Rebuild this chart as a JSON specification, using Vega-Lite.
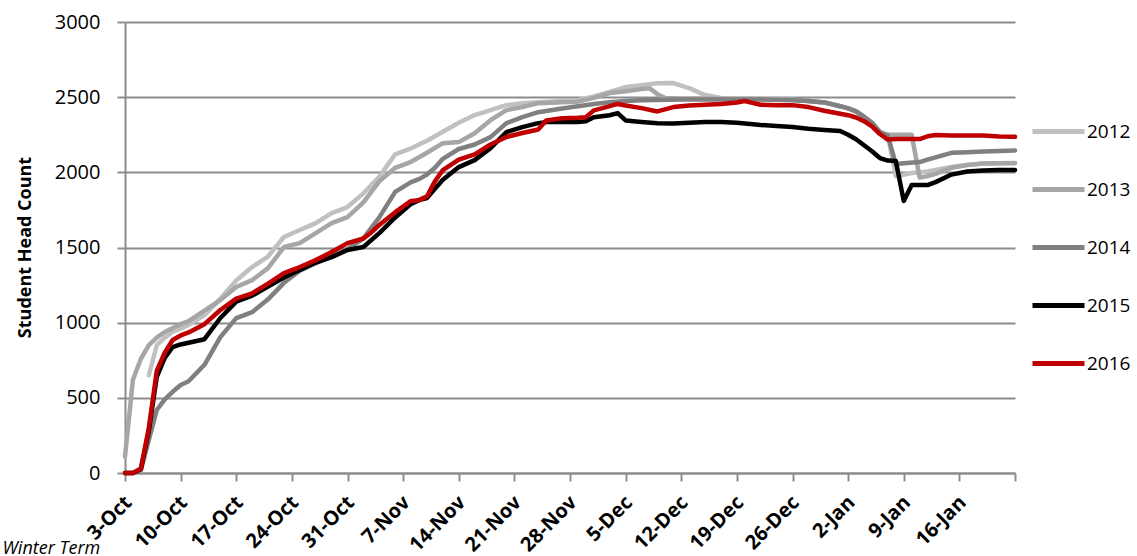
{
  "$schema": "https://vega.github.io/schema/vega-lite/v6.json",
  "width": 890,
  "height": 451,
  "autosize": {"type": "none"},
  "padding": {"left": 125, "top": 22, "right": 122, "bottom": 83},
  "background": "white",
  "config": {"font": "Open Sans", "view": {"stroke": null}},
  "data": {"values": [
    {"date":"2016-10-06","year":"2012","count":650},
    {"date":"2016-10-07","year":"2012","count":850},
    {"date":"2016-10-08","year":"2012","count":900},
    {"date":"2016-10-09","year":"2012","count":940},
    {"date":"2016-10-10","year":"2012","count":960},
    {"date":"2016-10-11","year":"2012","count":985},
    {"date":"2016-10-13","year":"2012","count":1050},
    {"date":"2016-10-15","year":"2012","count":1160},
    {"date":"2016-10-17","year":"2012","count":1280},
    {"date":"2016-10-19","year":"2012","count":1370},
    {"date":"2016-10-21","year":"2012","count":1440},
    {"date":"2016-10-23","year":"2012","count":1570},
    {"date":"2016-10-25","year":"2012","count":1616},
    {"date":"2016-10-27","year":"2012","count":1662},
    {"date":"2016-10-29","year":"2012","count":1729},
    {"date":"2016-10-31","year":"2012","count":1769},
    {"date":"2016-11-02","year":"2012","count":1860},
    {"date":"2016-11-04","year":"2012","count":1970},
    {"date":"2016-11-06","year":"2012","count":2120},
    {"date":"2016-11-08","year":"2012","count":2160},
    {"date":"2016-11-10","year":"2012","count":2210},
    {"date":"2016-11-12","year":"2012","count":2270},
    {"date":"2016-11-14","year":"2012","count":2330},
    {"date":"2016-11-16","year":"2012","count":2381},
    {"date":"2016-11-18","year":"2012","count":2414},
    {"date":"2016-11-20","year":"2012","count":2447},
    {"date":"2016-11-22","year":"2012","count":2460},
    {"date":"2016-11-24","year":"2012","count":2467},
    {"date":"2016-11-27","year":"2012","count":2475},
    {"date":"2016-11-29","year":"2012","count":2480},
    {"date":"2016-12-01","year":"2012","count":2505},
    {"date":"2016-12-03","year":"2012","count":2535},
    {"date":"2016-12-05","year":"2012","count":2567},
    {"date":"2016-12-07","year":"2012","count":2580},
    {"date":"2016-12-09","year":"2012","count":2592},
    {"date":"2016-12-11","year":"2012","count":2594},
    {"date":"2016-12-13","year":"2012","count":2560},
    {"date":"2016-12-15","year":"2012","count":2514},
    {"date":"2016-12-17","year":"2012","count":2495},
    {"date":"2016-12-19","year":"2012","count":2490},
    {"date":"2016-12-22","year":"2012","count":2488},
    {"date":"2016-12-26","year":"2012","count":2482},
    {"date":"2016-12-28","year":"2012","count":2475},
    {"date":"2016-12-30","year":"2012","count":2465},
    {"date":"2017-01-01","year":"2012","count":2440},
    {"date":"2017-01-02","year":"2012","count":2425},
    {"date":"2017-01-03","year":"2012","count":2405},
    {"date":"2017-01-04","year":"2012","count":2370},
    {"date":"2017-01-05","year":"2012","count":2330},
    {"date":"2017-01-06","year":"2012","count":2270},
    {"date":"2017-01-07","year":"2012","count":2245},
    {"date":"2017-01-08","year":"2012","count":1975},
    {"date":"2017-01-09","year":"2012","count":1985},
    {"date":"2017-01-10","year":"2012","count":1995},
    {"date":"2017-01-11","year":"2012","count":2000},
    {"date":"2017-01-12","year":"2012","count":2005},
    {"date":"2017-01-13","year":"2012","count":2015},
    {"date":"2017-01-15","year":"2012","count":2035},
    {"date":"2017-01-17","year":"2012","count":2050},
    {"date":"2017-01-19","year":"2012","count":2058},
    {"date":"2017-01-21","year":"2012","count":2060},
    {"date":"2017-01-23","year":"2012","count":2060},

    {"date":"2016-10-03","year":"2013","count":110},
    {"date":"2016-10-04","year":"2013","count":620},
    {"date":"2016-10-05","year":"2013","count":760},
    {"date":"2016-10-06","year":"2013","count":850},
    {"date":"2016-10-07","year":"2013","count":900},
    {"date":"2016-10-08","year":"2013","count":938},
    {"date":"2016-10-09","year":"2013","count":965},
    {"date":"2016-10-10","year":"2013","count":990},
    {"date":"2016-10-11","year":"2013","count":1010},
    {"date":"2016-10-13","year":"2013","count":1080},
    {"date":"2016-10-15","year":"2013","count":1150},
    {"date":"2016-10-17","year":"2013","count":1237},
    {"date":"2016-10-19","year":"2013","count":1283},
    {"date":"2016-10-21","year":"2013","count":1363},
    {"date":"2016-10-23","year":"2013","count":1503},
    {"date":"2016-10-25","year":"2013","count":1529},
    {"date":"2016-10-27","year":"2013","count":1596},
    {"date":"2016-10-29","year":"2013","count":1662},
    {"date":"2016-10-31","year":"2013","count":1702},
    {"date":"2016-11-02","year":"2013","count":1800},
    {"date":"2016-11-04","year":"2013","count":1940},
    {"date":"2016-11-06","year":"2013","count":2030},
    {"date":"2016-11-08","year":"2013","count":2070},
    {"date":"2016-11-10","year":"2013","count":2130},
    {"date":"2016-11-12","year":"2013","count":2194},
    {"date":"2016-11-14","year":"2013","count":2201},
    {"date":"2016-11-16","year":"2013","count":2260},
    {"date":"2016-11-18","year":"2013","count":2347},
    {"date":"2016-11-20","year":"2013","count":2414},
    {"date":"2016-11-22","year":"2013","count":2434},
    {"date":"2016-11-24","year":"2013","count":2460},
    {"date":"2016-11-27","year":"2013","count":2467},
    {"date":"2016-11-29","year":"2013","count":2470},
    {"date":"2016-12-01","year":"2013","count":2495},
    {"date":"2016-12-03","year":"2013","count":2527},
    {"date":"2016-12-05","year":"2013","count":2540},
    {"date":"2016-12-07","year":"2013","count":2555},
    {"date":"2016-12-08","year":"2013","count":2560},
    {"date":"2016-12-09","year":"2013","count":2520},
    {"date":"2016-12-10","year":"2013","count":2495},
    {"date":"2016-12-12","year":"2013","count":2490},
    {"date":"2016-12-15","year":"2013","count":2490},
    {"date":"2016-12-19","year":"2013","count":2488},
    {"date":"2016-12-22","year":"2013","count":2487},
    {"date":"2016-12-26","year":"2013","count":2483},
    {"date":"2016-12-28","year":"2013","count":2475},
    {"date":"2016-12-30","year":"2013","count":2465},
    {"date":"2017-01-01","year":"2013","count":2440},
    {"date":"2017-01-02","year":"2013","count":2425},
    {"date":"2017-01-03","year":"2013","count":2405},
    {"date":"2017-01-04","year":"2013","count":2370},
    {"date":"2017-01-05","year":"2013","count":2330},
    {"date":"2017-01-06","year":"2013","count":2270},
    {"date":"2017-01-07","year":"2013","count":2250},
    {"date":"2017-01-08","year":"2013","count":2250},
    {"date":"2017-01-09","year":"2013","count":2250},
    {"date":"2017-01-10","year":"2013","count":2250},
    {"date":"2017-01-11","year":"2013","count":1965},
    {"date":"2017-01-12","year":"2013","count":1975},
    {"date":"2017-01-13","year":"2013","count":1990},
    {"date":"2017-01-15","year":"2013","count":2030},
    {"date":"2017-01-17","year":"2013","count":2048},
    {"date":"2017-01-19","year":"2013","count":2058},
    {"date":"2017-01-21","year":"2013","count":2060},
    {"date":"2017-01-23","year":"2013","count":2062},

    {"date":"2016-10-03","year":"2014","count":0},
    {"date":"2016-10-04","year":"2014","count":0},
    {"date":"2016-10-05","year":"2014","count":20},
    {"date":"2016-10-06","year":"2014","count":220},
    {"date":"2016-10-07","year":"2014","count":419},
    {"date":"2016-10-08","year":"2014","count":490},
    {"date":"2016-10-09","year":"2014","count":540},
    {"date":"2016-10-10","year":"2014","count":585},
    {"date":"2016-10-11","year":"2014","count":610},
    {"date":"2016-10-13","year":"2014","count":720},
    {"date":"2016-10-15","year":"2014","count":904},
    {"date":"2016-10-17","year":"2014","count":1030},
    {"date":"2016-10-19","year":"2014","count":1070},
    {"date":"2016-10-21","year":"2014","count":1155},
    {"date":"2016-10-23","year":"2014","count":1265},
    {"date":"2016-10-25","year":"2014","count":1345},
    {"date":"2016-10-27","year":"2014","count":1395},
    {"date":"2016-10-29","year":"2014","count":1440},
    {"date":"2016-10-31","year":"2014","count":1490},
    {"date":"2016-11-02","year":"2014","count":1560},
    {"date":"2016-11-04","year":"2014","count":1700},
    {"date":"2016-11-06","year":"2014","count":1870},
    {"date":"2016-11-08","year":"2014","count":1935},
    {"date":"2016-11-09","year":"2014","count":1955},
    {"date":"2016-11-10","year":"2014","count":1985},
    {"date":"2016-11-11","year":"2014","count":2030},
    {"date":"2016-11-12","year":"2014","count":2090},
    {"date":"2016-11-14","year":"2014","count":2155},
    {"date":"2016-11-16","year":"2014","count":2185},
    {"date":"2016-11-18","year":"2014","count":2234},
    {"date":"2016-11-20","year":"2014","count":2327},
    {"date":"2016-11-22","year":"2014","count":2367},
    {"date":"2016-11-24","year":"2014","count":2400},
    {"date":"2016-11-27","year":"2014","count":2425},
    {"date":"2016-11-29","year":"2014","count":2440},
    {"date":"2016-12-01","year":"2014","count":2455},
    {"date":"2016-12-03","year":"2014","count":2467},
    {"date":"2016-12-05","year":"2014","count":2475},
    {"date":"2016-12-07","year":"2014","count":2480},
    {"date":"2016-12-12","year":"2014","count":2485},
    {"date":"2016-12-22","year":"2014","count":2485},
    {"date":"2016-12-26","year":"2014","count":2480},
    {"date":"2016-12-28","year":"2014","count":2475},
    {"date":"2016-12-30","year":"2014","count":2465},
    {"date":"2017-01-01","year":"2014","count":2440},
    {"date":"2017-01-02","year":"2014","count":2425},
    {"date":"2017-01-03","year":"2014","count":2405},
    {"date":"2017-01-04","year":"2014","count":2370},
    {"date":"2017-01-05","year":"2014","count":2330},
    {"date":"2017-01-06","year":"2014","count":2265},
    {"date":"2017-01-07","year":"2014","count":2245},
    {"date":"2017-01-08","year":"2014","count":2055},
    {"date":"2017-01-09","year":"2014","count":2060},
    {"date":"2017-01-11","year":"2014","count":2068},
    {"date":"2017-01-12","year":"2014","count":2085},
    {"date":"2017-01-13","year":"2014","count":2100},
    {"date":"2017-01-15","year":"2014","count":2130},
    {"date":"2017-01-17","year":"2014","count":2134},
    {"date":"2017-01-19","year":"2014","count":2138},
    {"date":"2017-01-21","year":"2014","count":2142},
    {"date":"2017-01-23","year":"2014","count":2145},

    {"date":"2016-10-03","year":"2015","count":0},
    {"date":"2016-10-04","year":"2015","count":0},
    {"date":"2016-10-05","year":"2015","count":25},
    {"date":"2016-10-06","year":"2015","count":280},
    {"date":"2016-10-07","year":"2015","count":640},
    {"date":"2016-10-08","year":"2015","count":765},
    {"date":"2016-10-09","year":"2015","count":838},
    {"date":"2016-10-10","year":"2015","count":855},
    {"date":"2016-10-11","year":"2015","count":866},
    {"date":"2016-10-13","year":"2015","count":890},
    {"date":"2016-10-15","year":"2015","count":1031},
    {"date":"2016-10-17","year":"2015","count":1140},
    {"date":"2016-10-19","year":"2015","count":1180},
    {"date":"2016-10-21","year":"2015","count":1240},
    {"date":"2016-10-23","year":"2015","count":1300},
    {"date":"2016-10-25","year":"2015","count":1350},
    {"date":"2016-10-27","year":"2015","count":1400},
    {"date":"2016-10-29","year":"2015","count":1436},
    {"date":"2016-10-31","year":"2015","count":1483},
    {"date":"2016-11-02","year":"2015","count":1503},
    {"date":"2016-11-04","year":"2015","count":1596},
    {"date":"2016-11-06","year":"2015","count":1700},
    {"date":"2016-11-08","year":"2015","count":1790},
    {"date":"2016-11-09","year":"2015","count":1815},
    {"date":"2016-11-10","year":"2015","count":1829},
    {"date":"2016-11-11","year":"2015","count":1890},
    {"date":"2016-11-12","year":"2015","count":1950},
    {"date":"2016-11-14","year":"2015","count":2035},
    {"date":"2016-11-16","year":"2015","count":2081},
    {"date":"2016-11-18","year":"2015","count":2161},
    {"date":"2016-11-20","year":"2015","count":2268},
    {"date":"2016-11-22","year":"2015","count":2301},
    {"date":"2016-11-24","year":"2015","count":2327},
    {"date":"2016-11-25","year":"2015","count":2334},
    {"date":"2016-11-27","year":"2015","count":2334},
    {"date":"2016-11-29","year":"2015","count":2334},
    {"date":"2016-11-30","year":"2015","count":2340},
    {"date":"2016-12-01","year":"2015","count":2367},
    {"date":"2016-12-03","year":"2015","count":2380},
    {"date":"2016-12-04","year":"2015","count":2394},
    {"date":"2016-12-05","year":"2015","count":2345},
    {"date":"2016-12-07","year":"2015","count":2335},
    {"date":"2016-12-09","year":"2015","count":2327},
    {"date":"2016-12-11","year":"2015","count":2325},
    {"date":"2016-12-13","year":"2015","count":2330},
    {"date":"2016-12-15","year":"2015","count":2334},
    {"date":"2016-12-17","year":"2015","count":2334},
    {"date":"2016-12-19","year":"2015","count":2330},
    {"date":"2016-12-20","year":"2015","count":2325},
    {"date":"2016-12-22","year":"2015","count":2315},
    {"date":"2016-12-24","year":"2015","count":2308},
    {"date":"2016-12-26","year":"2015","count":2302},
    {"date":"2016-12-28","year":"2015","count":2290},
    {"date":"2016-12-30","year":"2015","count":2282},
    {"date":"2017-01-01","year":"2015","count":2275},
    {"date":"2017-01-02","year":"2015","count":2250},
    {"date":"2017-01-03","year":"2015","count":2220},
    {"date":"2017-01-04","year":"2015","count":2180},
    {"date":"2017-01-05","year":"2015","count":2140},
    {"date":"2017-01-06","year":"2015","count":2095},
    {"date":"2017-01-07","year":"2015","count":2078},
    {"date":"2017-01-08","year":"2015","count":2075},
    {"date":"2017-01-09","year":"2015","count":1810},
    {"date":"2017-01-10","year":"2015","count":1915},
    {"date":"2017-01-12","year":"2015","count":1915},
    {"date":"2017-01-13","year":"2015","count":1935},
    {"date":"2017-01-15","year":"2015","count":1985},
    {"date":"2017-01-17","year":"2015","count":2005},
    {"date":"2017-01-19","year":"2015","count":2012},
    {"date":"2017-01-21","year":"2015","count":2015},
    {"date":"2017-01-23","year":"2015","count":2015},

    {"date":"2016-10-03","year":"2016","count":0},
    {"date":"2016-10-04","year":"2016","count":0},
    {"date":"2016-10-05","year":"2016","count":30},
    {"date":"2016-10-06","year":"2016","count":300},
    {"date":"2016-10-07","year":"2016","count":680},
    {"date":"2016-10-08","year":"2016","count":800},
    {"date":"2016-10-09","year":"2016","count":885},
    {"date":"2016-10-10","year":"2016","count":915},
    {"date":"2016-10-11","year":"2016","count":935},
    {"date":"2016-10-13","year":"2016","count":990},
    {"date":"2016-10-15","year":"2016","count":1084},
    {"date":"2016-10-17","year":"2016","count":1160},
    {"date":"2016-10-19","year":"2016","count":1195},
    {"date":"2016-10-21","year":"2016","count":1260},
    {"date":"2016-10-23","year":"2016","count":1330},
    {"date":"2016-10-25","year":"2016","count":1370},
    {"date":"2016-10-27","year":"2016","count":1416},
    {"date":"2016-10-29","year":"2016","count":1470},
    {"date":"2016-10-31","year":"2016","count":1529},
    {"date":"2016-11-02","year":"2016","count":1560},
    {"date":"2016-11-03","year":"2016","count":1600},
    {"date":"2016-11-04","year":"2016","count":1650},
    {"date":"2016-11-06","year":"2016","count":1735},
    {"date":"2016-11-08","year":"2016","count":1810},
    {"date":"2016-11-09","year":"2016","count":1815},
    {"date":"2016-11-10","year":"2016","count":1840},
    {"date":"2016-11-11","year":"2016","count":1940},
    {"date":"2016-11-12","year":"2016","count":2015},
    {"date":"2016-11-14","year":"2016","count":2085},
    {"date":"2016-11-16","year":"2016","count":2120},
    {"date":"2016-11-18","year":"2016","count":2185},
    {"date":"2016-11-20","year":"2016","count":2235},
    {"date":"2016-11-22","year":"2016","count":2262},
    {"date":"2016-11-24","year":"2016","count":2285},
    {"date":"2016-11-25","year":"2016","count":2345},
    {"date":"2016-11-27","year":"2016","count":2360},
    {"date":"2016-11-29","year":"2016","count":2363},
    {"date":"2016-11-30","year":"2016","count":2367},
    {"date":"2016-12-01","year":"2016","count":2412},
    {"date":"2016-12-03","year":"2016","count":2440},
    {"date":"2016-12-04","year":"2016","count":2455},
    {"date":"2016-12-05","year":"2016","count":2445},
    {"date":"2016-12-07","year":"2016","count":2427},
    {"date":"2016-12-09","year":"2016","count":2405},
    {"date":"2016-12-11","year":"2016","count":2434},
    {"date":"2016-12-13","year":"2016","count":2445},
    {"date":"2016-12-15","year":"2016","count":2450},
    {"date":"2016-12-17","year":"2016","count":2454},
    {"date":"2016-12-19","year":"2016","count":2465},
    {"date":"2016-12-20","year":"2016","count":2474},
    {"date":"2016-12-22","year":"2016","count":2450},
    {"date":"2016-12-24","year":"2016","count":2447},
    {"date":"2016-12-26","year":"2016","count":2447},
    {"date":"2016-12-28","year":"2016","count":2434},
    {"date":"2016-12-30","year":"2016","count":2410},
    {"date":"2017-01-01","year":"2016","count":2390},
    {"date":"2017-01-02","year":"2016","count":2380},
    {"date":"2017-01-03","year":"2016","count":2365},
    {"date":"2017-01-04","year":"2016","count":2340},
    {"date":"2017-01-05","year":"2016","count":2305},
    {"date":"2017-01-06","year":"2016","count":2255},
    {"date":"2017-01-07","year":"2016","count":2218},
    {"date":"2017-01-08","year":"2016","count":2221},
    {"date":"2017-01-11","year":"2016","count":2221},
    {"date":"2017-01-12","year":"2016","count":2240},
    {"date":"2017-01-13","year":"2016","count":2248},
    {"date":"2017-01-15","year":"2016","count":2245},
    {"date":"2017-01-19","year":"2016","count":2245},
    {"date":"2017-01-21","year":"2016","count":2238},
    {"date":"2017-01-23","year":"2016","count":2236}
  ]},
  "mark": {"type": "line", "strokeWidth": 4.5, "strokeCap": "round", "strokeJoin": "round"},
  "encoding": {
    "x": {
      "field": "date",
      "type": "temporal",
      "scale": {"type": "utc", "domain": [
        {"year": 2016, "month": 10, "date": 3, "utc": true},
        {"year": 2017, "month": 1, "date": 23, "utc": true}
      ]},
      "axis": {
        "values": [
          {"year": 2016, "month": 10, "date": 3, "utc": true},
          {"year": 2016, "month": 10, "date": 10, "utc": true},
          {"year": 2016, "month": 10, "date": 17, "utc": true},
          {"year": 2016, "month": 10, "date": 24, "utc": true},
          {"year": 2016, "month": 10, "date": 31, "utc": true},
          {"year": 2016, "month": 11, "date": 7, "utc": true},
          {"year": 2016, "month": 11, "date": 14, "utc": true},
          {"year": 2016, "month": 11, "date": 21, "utc": true},
          {"year": 2016, "month": 11, "date": 28, "utc": true},
          {"year": 2016, "month": 12, "date": 5, "utc": true},
          {"year": 2016, "month": 12, "date": 12, "utc": true},
          {"year": 2016, "month": 12, "date": 19, "utc": true},
          {"year": 2016, "month": 12, "date": 26, "utc": true},
          {"year": 2017, "month": 1, "date": 2, "utc": true},
          {"year": 2017, "month": 1, "date": 9, "utc": true},
          {"year": 2017, "month": 1, "date": 16, "utc": true},
          {"year": 2017, "month": 1, "date": 23, "utc": true}
        ],
        "labelExpr": "utcFormat(datum.value, '%-d-%b') == '23-Jan' ? '' : utcFormat(datum.value, '%-d-%b')",
        "labelAngle": -45,
        "labelAlign": "right",
        "labelBaseline": "top",
        "labelOffset": -4,
        "labelPadding": 11,
        "labelFontSize": 20,
        "labelFontWeight": "bold",
        "labelColor": "#000000",
        "labelOverlap": false,
        "grid": false,
        "domainColor": "#8c8c8c",
        "domainWidth": 2,
        "tickColor": "#8c8c8c",
        "tickWidth": 2,
        "tickSize": 8,
        "title": "Winter Term",
        "titleFontStyle": "italic",
        "titleFontWeight": "normal",
        "titleFontSize": 18,
        "titleColor": "#000000",
        "titleAlign": "left",
        "titleBaseline": "alphabetic",
        "titleX": -123,
        "titleY": 80
      }
    },
    "y": {
      "field": "count",
      "type": "quantitative",
      "scale": {"domain": [0, 3000]},
      "axis": {
        "values": [0, 500, 1000, 1500, 2000, 2500, 3000],
        "format": "d",
        "grid": true,
        "gridColor": "#8c8c8c",
        "gridWidth": 2,
        "domainColor": "#8c8c8c",
        "domainWidth": 2,
        "tickColor": "#8c8c8c",
        "tickWidth": 2,
        "tickSize": 8,
        "labelFontSize": 20,
        "labelColor": "#000000",
        "labelPadding": 17,
        "title": "Student Head Count",
        "titleFontSize": 18,
        "titleFontWeight": "bold",
        "titleColor": "#000000",
        "titleX": -100,
        "titleY": 225,
        "titleBaseline": "middle",
        "titleAngle": 270
      }
    },
    "color": {
      "field": "year",
      "type": "nominal",
      "scale": {
        "domain": ["2012", "2013", "2014", "2015", "2016"],
        "range": ["#c0c0c0", "#a6a6a6", "#808080", "#000000", "#c00000"]
      },
      "legend": {
        "orient": "none",
        "legendX": 905,
        "legendY": 81,
        "title": null,
        "padding": 0,
        "symbolType": "stroke",
        "symbolSize": 2704,
        "symbolStrokeWidth": 5,
        "labelFontSize": 19,
        "labelColor": "#000000",
        "labelOffset": 0,
        "rowPadding": 19
      }
    }
  }
}
